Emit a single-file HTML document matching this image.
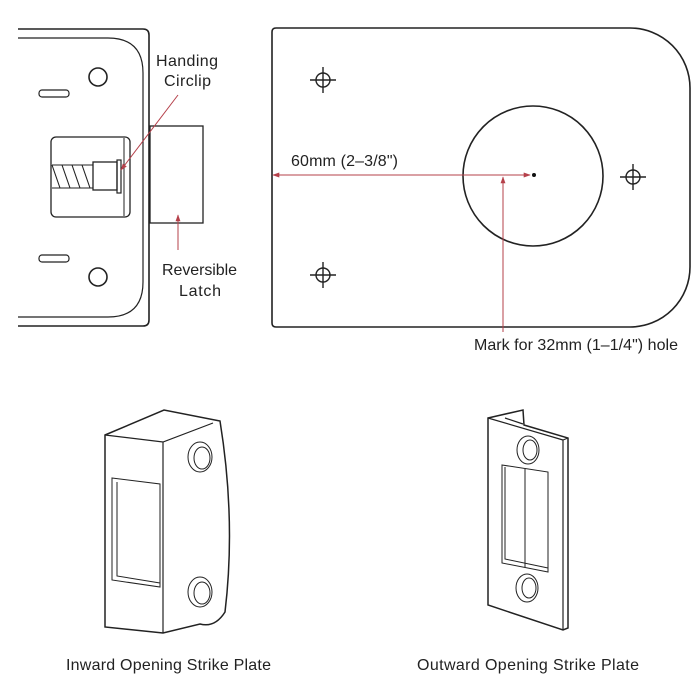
<!DOCTYPE html>
<html><head><meta charset="utf-8"><style>
html,body{margin:0;padding:0;background:#fff;width:700px;height:700px;overflow:hidden}
svg text{font-family:"Liberation Sans",sans-serif;font-size:16px;fill:#222}
</style></head><body>
<svg width="700" height="700" viewBox="0 0 700 700" xmlns="http://www.w3.org/2000/svg">
<defs>
<marker id="ah" viewBox="0 0 10 10" refX="9" refY="5" markerWidth="7" markerHeight="7" orient="auto-start-reverse"><path d="M0,1.5 L10,5 L0,8.5 z" fill="#b5404a"/></marker>
</defs>
<g fill="none" stroke="#222" stroke-width="1.6">
<path d="M18,29 H143 Q149,29 149,35 V320 Q149,326 143,326 H18"/>
<path d="M18,38 H108 Q143,38 143,73 V282 Q143,317 108,317 H18" stroke-width="1.2"/>
<circle cx="98" cy="77" r="9"/><circle cx="98" cy="277" r="9"/>
<rect x="39" y="90" width="30" height="7" rx="3" stroke-width="1.2"/>
<rect x="39" y="255" width="30" height="7" rx="3" stroke-width="1.2"/>
<rect x="51" y="137" width="79" height="80" rx="5" stroke-width="1.3"/>
<line x1="124" y1="138" x2="124" y2="216" stroke-width="1"/>
<path d="M52,165 L60,188 M62,165 L70,188 M72,165 L80,188 M82,165 L90,188 M52,165 H93 M52,188 H93" stroke-width="1.1"/>
<rect x="93" y="162" width="24" height="28" stroke-width="1.3"/>
<rect x="117" y="160" width="4" height="33" stroke-width="1.2"/>
<rect x="150" y="126" width="53" height="97" stroke-width="1.3"/>
<path d="M276,28 H630 A60,60 0 0 1 690,88 V267 A60,60 0 0 1 630,327 H276 Q272,327 272,323 V32 Q272,28 276,28 Z"/>
<circle cx="533" cy="176" r="70"/>
<g stroke-width="1.4">
<circle cx="323" cy="80" r="7"/><path d="M310,80 H336 M323,67 V93"/>
<circle cx="633" cy="177" r="7"/><path d="M620,177 H646 M633,164 V190"/>
<circle cx="323" cy="275" r="7"/><path d="M310,275 H336 M323,262 V288"/>
</g>
<path d="M105,435 L164,410 L220,421 Q236,520 225,612 Q215,628 200,624 L163,633 L105,627 Z" stroke-width="1.5"/>
<path d="M105,435 L163,442 L213,423 M163,442 V633" stroke-width="1.2"/>
<path d="M112,478 L160,484 V587 L112,580 Z M117,482 V576 L160,583" stroke-width="1"/>
<ellipse cx="200" cy="457" rx="12" ry="15" stroke-width="1"/><ellipse cx="202" cy="458" rx="8" ry="11" stroke-width="1"/>
<ellipse cx="200" cy="592" rx="12" ry="15" stroke-width="1"/><ellipse cx="202" cy="593" rx="8" ry="11" stroke-width="1"/>
<path d="M488,418 L523,410 L524,425 L568,438 V628 L563,630 L488,605 Z" stroke-width="1.5"/>
<path d="M488,418 L563,440 V630 M568,438 L563,440 M505,418 L523,424" stroke-width="1.2"/>
<path d="M502,465 L548,472 V572 L502,563 Z M525,468 V568 M505,467 V559 L548,568" stroke-width="1"/>
<ellipse cx="528" cy="450" rx="11" ry="14" stroke-width="1"/><ellipse cx="530" cy="450" rx="7" ry="10" stroke-width="1"/>
<ellipse cx="527" cy="588" rx="11" ry="14" stroke-width="1"/><ellipse cx="529" cy="588" rx="7" ry="10" stroke-width="1"/>
</g>
<g stroke="#b5404a" stroke-width="1" fill="none">
<line x1="178" y1="95" x2="121" y2="170" marker-end="url(#ah)"/>
<line x1="178" y1="250" x2="178" y2="215" marker-end="url(#ah)"/>
<line x1="273" y1="175" x2="530" y2="175" marker-start="url(#ah)" marker-end="url(#ah)"/>
<line x1="503" y1="332" x2="503" y2="177" marker-end="url(#ah)"/>
</g>
<circle cx="534" cy="175" r="2" fill="#111"/>
<text x="156" y="66" textLength="62">Handing</text>
<text x="164" y="86" textLength="47">Circlip</text>
<text x="162" y="275" textLength="75">Reversible</text>
<text x="179" y="296" textLength="42">Latch</text>
<text x="291" y="166" textLength="107">60mm (2–3/8")</text>
<text x="474" y="350" textLength="204">Mark for 32mm (1–1/4") hole</text>
<text x="66" y="670" textLength="205">Inward Opening Strike Plate</text>
<text x="417" y="670" textLength="222">Outward Opening Strike Plate</text>
</svg>
</body></html>
